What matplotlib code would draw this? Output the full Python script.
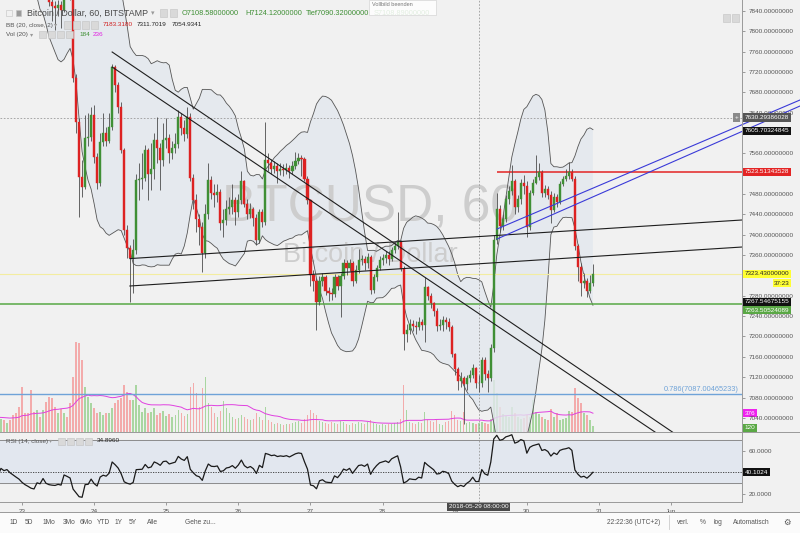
import numpy as np
import pandas as pd
import matplotlib
matplotlib.use('Agg')
import matplotlib.pyplot as plt
from matplotlib.patches import Rectangle
from matplotlib.lines import Line2D
from matplotlib.ticker import FuncFormatter

plt.rcParams['font.family'] = ['Liberation Sans', 'DejaVu Sans']

# BTCUSD 60 min, BITSTAMP.  hour 0 = 2018-05-23 00:00, first 30 bars are warm-up (off screen)
close_may22 = [8420, 8380, 8440, 8390, 8350, 8410, 8360, 8300, 8370, 8330, 8280, 8340, 8290, 8230, 8300,
               8260, 8200, 8270, 8230, 8170, 8240, 8200, 8140, 8210, 8180, 8190, 8150, 8120, 8090, 8060]
close_may23 = [8010, 7970, 7940, 7905, 7890, 7930, 7915, 7950, 7880, 7858, 7850, 7846,
               7852, 7842, 7900, 7885, 7868, 7708, 7622, 7513, 7494, 7590, 7592, 7635]
close_may24 = [7553, 7502, 7582, 7600, 7585, 7612, 7730, 7695, 7651, 7566, 7409, 7374,
               7354, 7370, 7507, 7510, 7512, 7566, 7520, 7530, 7586, 7570, 7546, 7586]
close_may25 = [7590, 7561, 7570, 7578, 7632, 7610, 7598, 7632, 7511, 7468, 7430, 7415,
               7364, 7441, 7507, 7481, 7478, 7483, 7423, 7428, 7450, 7455, 7468, 7445]
close_may26 = [7468, 7505, 7460, 7441, 7450, 7432, 7390, 7444, 7425, 7547, 7540, 7530,
               7535, 7525, 7530, 7527, 7532, 7525, 7535, 7545, 7550, 7548, 7510, 7468]
close_may27 = [7320, 7310, 7267, 7310, 7316, 7290, 7285, 7283, 7316, 7300, 7318, 7344,
               7335, 7345, 7310, 7330, 7350, 7353, 7345, 7356, 7291, 7316, 7335, 7350]
close_may28 = [7355, 7360, 7352, 7370, 7378, 7385, 7333, 7205, 7212, 7225, 7220, 7218,
               7228, 7222, 7297, 7280, 7265, 7250, 7220, 7222, 7232, 7228, 7218, 7165]
close_may29 = [7136, 7113, 7118, 7107, 7118, 7125, 7139, 7108.58, 7108.89, 7153, 7127, 7118,
               7178, 7390, 7450, 7418, 7430, 7470, 7485, 7505, 7455, 7470, 7502, 7495]
close_may30 = [7415, 7481, 7502, 7513, 7523, 7481, 7490, 7478, 7448, 7475, 7465, 7500,
               7510, 7515, 7523, 7510, 7378, 7336, 7305, 7310, 7290, 7305, 7323.43]

high_may22 = [8432, 8430, 8452, 8448, 8398, 8420, 8418, 8365, 8378, 8380, 8335, 8350, 8345, 8298, 8310,
              8308, 8268, 8280, 8275, 8238, 8250, 8245, 8205, 8220, 8215, 8200, 8195, 8158, 8128, 8096]
high_may23 = [8066, 8018, 7978, 7948, 7912, 7938, 7936, 7958, 7956, 7885, 7866, 7860,
              7862, 7860, 7908, 7905, 7890, 7875, 7715, 7630, 7547, 7636, 7640, 7650]
high_may24 = [7655, 7560, 7600, 7640, 7612, 7640, 7735, 7733, 7700, 7660, 7570, 7420,
              7380, 7392, 7520, 7540, 7560, 7576, 7570, 7580, 7600, 7632, 7580, 7620]
high_may25 = [7630, 7598, 7585, 7600, 7645, 7640, 7625, 7650, 7640, 7520, 7480, 7440,
              7425, 7460, 7541, 7515, 7500, 7500, 7490, 7450, 7468, 7475, 7500, 7475]
high_may26 = [7480, 7525, 7508, 7470, 7462, 7455, 7440, 7450, 7450, 7622, 7560, 7548,
              7545, 7540, 7540, 7538, 7540, 7536, 7545, 7562, 7560, 7556, 7552, 7515]
high_may27 = [7470, 7330, 7315, 7318, 7325, 7320, 7298, 7295, 7322, 7320, 7325, 7352,
              7350, 7352, 7348, 7340, 7372, 7360, 7358, 7365, 7360, 7322, 7340, 7358]
high_may28 = [7362, 7368, 7368, 7376, 7385, 7445, 7390, 7338, 7225, 7235, 7232, 7230,
              7238, 7235, 7317, 7300, 7285, 7268, 7255, 7235, 7240, 7238, 7236, 7222]
high_may29 = [7168, 7140, 7130, 7122, 7125, 7135, 7146, 7140, 7124.12, 7160, 7160, 7135,
              7185, 7400, 7481, 7458, 7440, 7478, 7495, 7537, 7510, 7478, 7510, 7517]
high_may30 = [7505, 7488, 7510, 7556, 7541, 7528, 7498, 7495, 7485, 7482, 7480, 7505,
              7515, 7530, 7543, 7530, 7515, 7382, 7345, 7325, 7315, 7320, 7342]

low_may22 = [8408, 8372, 8375, 8384, 8340, 8345, 8352, 8292, 8295, 8322, 8272, 8275, 8282, 8222, 8225,
             8252, 8192, 8195, 8222, 8162, 8165, 8195, 8132, 8135, 8172, 8175, 8142, 8112, 8082, 8052]
low_may23 = [8002, 7962, 7932, 7898, 7878, 7884, 7908, 7910, 7868, 7850, 7820, 7803,
             7830, 7806, 7838, 7875, 7862, 7700, 7600, 7434, 7474, 7490, 7575, 7585]
low_may24 = [7540, 7490, 7495, 7575, 7575, 7580, 7605, 7680, 7640, 7560, 7400, 7355,
             7268, 7285, 7362, 7468, 7490, 7505, 7468, 7488, 7510, 7540, 7488, 7535]
low_may25 = [7570, 7540, 7548, 7560, 7570, 7595, 7585, 7590, 7505, 7450, 7405, 7380,
             7326, 7355, 7430, 7470, 7455, 7465, 7410, 7395, 7420, 7440, 7440, 7420]
low_may26 = [7435, 7460, 7455, 7430, 7432, 7418, 7380, 7383, 7415, 7420, 7525, 7520,
             7522, 7502, 7518, 7515, 7520, 7512, 7520, 7530, 7538, 7515, 7505, 7460]
low_may27 = [7300, 7290, 7212, 7262, 7300, 7282, 7270, 7272, 7278, 7292, 7238, 7312,
             7320, 7328, 7300, 7305, 7325, 7340, 7330, 7335, 7283, 7285, 7310, 7330]
low_may28 = [7340, 7345, 7340, 7348, 7365, 7372, 7328, 7173, 7190, 7205, 7210, 7205,
             7212, 7212, 7189, 7272, 7255, 7240, 7210, 7212, 7210, 7215, 7210, 7160]
low_may29 = [7125, 7095, 7100, 7029, 7095, 7110, 7118, 7098, 7090.32, 7100, 7115, 7090,
             7112, 7170, 7382, 7405, 7410, 7425, 7460, 7478, 7440, 7445, 7460, 7480]
low_may30 = [7395, 7410, 7478, 7500, 7508, 7475, 7475, 7470, 7423, 7445, 7455, 7460,
             7495, 7505, 7510, 7505, 7370, 7310, 7280, 7295, 7278, 7285, 7300]

vol_may22 = [300, 280, 320, 260, 340, 300, 280, 260, 300, 320, 280, 260, 300, 340, 280,
             320, 260, 300, 280, 260, 300, 280, 320, 260, 240, 175, 240, 340, 375, 505]
vol_may23 = [905, 375, 375, 840, 400, 440, 305, 450, 600, 700, 675, 505,
             375, 470, 375, 305, 575, 1105, 1805, 1775, 1440, 905, 705, 575]
vol_may24 = [475, 375, 400, 340, 375, 375, 475, 575, 640, 675, 940, 805,
             640, 640, 940, 540, 405, 475, 375, 400, 480, 350, 380, 420]
vol_may25 = [330, 360, 300, 340, 440, 380, 320, 360, 900, 980, 780, 500,
             880, 1100, 580, 500, 380, 300, 420, 620, 480, 380, 300, 260]
vol_may26 = [280, 340, 300, 260, 240, 260, 380, 300, 240, 500, 240, 200,
             160, 180, 160, 150, 170, 160, 180, 200, 220, 180, 260, 340]
vol_may27 = [440, 380, 340, 220, 200, 180, 160, 200, 180, 160, 220, 200,
             160, 140, 180, 160, 200, 180, 160, 200, 240, 180, 160, 140]
vol_may28 = [160, 150, 170, 160, 180, 200, 260, 940, 440, 200, 180, 160,
             200, 180, 400, 240, 220, 200, 240, 160, 140, 200, 220, 420]
vol_may29 = [340, 240, 220, 400, 180, 200, 180, 160, 184, 200, 180, 160,
             260, 1040, 780, 500, 360, 320, 300, 500, 380, 300, 260, 280]
vol_may30 = [340, 300, 640, 400, 360, 300, 260, 240, 460, 300, 380, 240,
             260, 280, 420, 400, 880, 680, 580, 380, 340, 240, 120]

# drawings: (hour, price) anchors
channel_down_upper = ([30, 220], [7759, 6998])
channel_down_lower = ([30, 215], [7729.5, 6995])
support_upper = ([35.9, 239.6], [7353.1, 7428.9])
support_lower = ([35.9, 239.6], [7299.2, 7375.8])
channel_blue_upper = ([158.07, 258.9], [7411.2, 7664.7])
channel_blue_lower = ([158.07, 258.9], [7391.6, 7652.9])
resistance = 7523.51343528
resistance_start = 158
support_green = 7263.50524089
fib_786 = 7087.00465233
last_price = 7323.43
crosshair_hour = 152
crosshair_price = 7630.29386028

day_ticks = [0, 24, 48, 72, 96, 120, 144, 168, 192, 216]
day_labels = ['23', '24', '25', '26', '27', '28', '29', '30', '31', 'Jun']
# tick levels that are not hidden behind the price tags
price_ticks = [7040, 7080, 7120, 7160, 7200, 7240, 7280, 7360, 7400, 7440, 7480,
               7560, 7640, 7680, 7720, 7760, 7800, 7840]
rsi_ticks = [20, 60]

hours = np.arange(-30, 191)
close = pd.Series(close_may22 + close_may23 + close_may24 + close_may25 + close_may26 +
                  close_may27 + close_may28 + close_may29 + close_may30, index=hours, dtype=float)
high = pd.Series(high_may22 + high_may23 + high_may24 + high_may25 + high_may26 +
                 high_may27 + high_may28 + high_may29 + high_may30, index=hours, dtype=float)
low = pd.Series(low_may22 + low_may23 + low_may24 + low_may25 + low_may26 +
                low_may27 + low_may28 + low_may29 + low_may30, index=hours, dtype=float)
volume = pd.Series(vol_may22 + vol_may23 + vol_may24 + vol_may25 + vol_may26 +
                   vol_may27 + vol_may28 + vol_may29 + vol_may30, index=hours, dtype=float)
opens = close.shift(1).fillna(close.iloc[0])

# indicators
bb_mid = close.rolling(20).mean()
bb_sd = close.rolling(20).std(ddof=0)
bb_up = bb_mid + 2 * bb_sd
bb_dn = bb_mid - 2 * bb_sd
delta = close.diff().fillna(0)
gain = delta.clip(lower=0).ewm(alpha=1/14, adjust=False).mean()
loss = (-delta.clip(upper=0)).ewm(alpha=1/14, adjust=False).mean()
rsi = 100 - 100 / (1 + gain / loss)
vol_ma = volume.rolling(20).mean()

BG = '#f1f1f1'
UP = '#3f8f35'
DOWN = '#dd2222'
W, H = 800, 533


def fx(x):
    return x / W


def fy(y):
    return 1 - y / H


def rect(x0, y0, x1, y1):
    return [x0 / W, 1 - y1 / H, (x1 - x0) / W, (y1 - y0) / H]


fig = plt.figure(figsize=(8, 5.33), dpi=100, facecolor=BG)
vax = fig.add_axes(rect(0, 0, 742, 432))
ax = fig.add_axes(rect(0, 0, 742, 432), sharex=vax)
rax = fig.add_axes(rect(0, 432, 742, 502), sharex=vax)
vax.set_facecolor(BG)
ax.set_facecolor('none')
rax.set_facecolor(BG)
for a in (vax, ax, rax):
    for s in a.spines.values():
        s.set_visible(False)
ax.set_xlim(-22 / 3.005, 720 / 3.005)
ax.set_ylim(7012.3, 7861.2)
vax.set_ylim(0, 8640)
rax.set_ylim(12.6, 77.25)
vax.set_yticks([])
vax.tick_params(bottom=False, labelbottom=False)
ax.tick_params(bottom=False, labelbottom=False)

# watermark (above the band fill, below the candles)
ax.text(fx(371), fy(222), 'BTCUSD, 60', transform=fig.transFigure, ha='center', va='baseline',
        fontsize=37, color='#cdcdcd', zorder=1.5)
ax.text(fx(370), fy(262), 'Bitcoin / Dollar', transform=fig.transFigure, ha='center', va='baseline',
        fontsize=19.5, color='#cdcdcd', zorder=1.5)

# volume
vcol = np.where(close >= opens, '#a9d6a1', '#f3abab')
vax.bar(hours, volume, width=0.5, color=vcol, zorder=2)
vax.plot(hours, vol_ma, color='#e040e0', lw=0.7, zorder=3)

# bollinger bands
ax.fill_between(hours, bb_dn, bb_up, color='#e3e8ee', alpha=0.8, lw=0, zorder=1)
ax.plot(hours, bb_up, color='#555555', lw=0.6, zorder=2)
ax.plot(hours, bb_dn, color='#555555', lw=0.6, zorder=2)

# horizontal levels
ax.axhline(support_green, color='#58a845', lw=1.1, zorder=3)
ax.axhline(fib_786, color='#6fa3d8', lw=1.0, zorder=3)
ax.axhline(last_price, color='#f3eda0', lw=0.8, zorder=2)
ax.hlines(resistance, resistance_start, 240, color='#e32424', lw=1.1, zorder=3)
ax.axhline(crosshair_price, color='#9a9a9a', lw=0.6, ls=(0, (2, 2)), zorder=3)
ax.axvline(crosshair_hour, color='#9a9a9a', lw=0.6, ls=(0, (2, 2)), zorder=3)
rax.axvline(crosshair_hour, color='#9a9a9a', lw=0.6, ls=(0, (2, 2)), zorder=3)
ax.text(238.5, fib_786 + 2, '0.786(7087.00465233)', ha='right', va='bottom', fontsize=5.3,
        color='#6fa3d8', zorder=4)

# candles
ccol = np.where(close >= opens, UP, DOWN)
ax.vlines(hours, low, high, color='#4d4d4d', lw=0.6, zorder=4)
ax.bar(hours, (close - opens).abs(), bottom=np.minimum(close, opens), width=0.7,
       color=ccol, edgecolor=ccol, lw=0.3, zorder=5)

# trend lines
for xs, ys in (channel_down_upper, channel_down_lower, support_upper, support_lower):
    ax.plot(xs, ys, color='#1e1e1e', lw=0.8, zorder=6)
for xs, ys in (channel_blue_upper, channel_blue_lower):
    ax.plot(xs, ys, color='#3a3ad8', lw=0.8, zorder=6, clip_on=False)

# price axis
ax.yaxis.tick_right()
ax.set_yticks(price_ticks)
ax.yaxis.set_major_formatter(FuncFormatter(lambda v, p: '%.8f' % v))
ax.tick_params(axis='y', length=2.5, width=0.6, colors='#8c8c8c', labelcolor='#555555',
               labelsize=4.6, pad=2)


def tag(axis, y, text, fc, tc='white', x=1.004):
    axis.text(x, y, text, transform=axis.get_yaxis_transform(), ha='left', va='center',
              fontsize=4.6, color=tc, zorder=10, clip_on=False,
              bbox=dict(boxstyle='square,pad=0.25', fc=fc, ec='none'))


tag(ax, crosshair_price, '7630.29386028', '#555555')
ax.text(0.9925, crosshair_price, '+', transform=ax.get_yaxis_transform(), ha='center', va='center',
        fontsize=4.6, color='white', zorder=10, clip_on=False,
        bbox=dict(boxstyle='square,pad=0.25', fc='#8a8a8a', ec='none'))
tag(ax, 7603.8, '7605.70324845', '#111111')
tag(ax, resistance, '7523.51343528', '#e32424')
tag(ax, last_price, '7323.43000000', '#ffff33', '#222222')
ax.text(1.0645, 7305, '37:23', transform=ax.get_yaxis_transform(), ha='right', va='center',
        fontsize=4.6, color='#222222', zorder=10, clip_on=False,
        bbox=dict(boxstyle='square,pad=0.25', fc='#ffff33', ec='none'))
tag(ax, 7267.8, '7267.54675155', '#111111')
tag(ax, 7252, '7263.50524089', '#5aa845')
tag(vax, 376, '376', '#ee22ee')
tag(vax, 85, '120', '#5aa845')

# RSI pane
rax.axhspan(30, 70, color='#e2e7ef', zorder=0)
rax.axhline(70, color='#8c8c8c', lw=0.7)
rax.axhline(30, color='#8c8c8c', lw=0.7)
rax.axhline(40.1024, color='#333333', lw=0.6, ls=(0, (1.5, 1.5)))
rax.plot(hours, rsi, color='#1a1a1a', lw=0.9, zorder=3)
rax.yaxis.tick_right()
rax.set_yticks(rsi_ticks)
rax.yaxis.set_major_formatter(FuncFormatter(lambda v, p: '%.4f' % v))
rax.tick_params(axis='y', length=2.5, width=0.6, colors='#8c8c8c', labelcolor='#555555',
                labelsize=4.6, pad=2)
tag(rax, 40.1024, '40.1024', '#111111')
rax.set_xticks(day_ticks)
rax.set_xticklabels(day_labels)
rax.tick_params(axis='x', length=2, width=0.6, colors='#8c8c8c', labelcolor='#555555',
                labelsize=4.6, pad=3)
rax.text(crosshair_hour, -0.035, '2018-05-29 08:00:00', transform=rax.get_xaxis_transform(),
         ha='center', va='top', fontsize=4.6, color='white', zorder=10, clip_on=False,
         bbox=dict(boxstyle='square,pad=0.3', fc='#4a4a4a', ec='none'))

# frame lines
for xs, ys in (([742, 742], [0, 502]), ([0, 800], [432, 432]), ([0, 742], [502, 502]),
               ([0, 800], [512, 512])):
    fig.add_artist(Line2D([fx(v) for v in xs], [fy(v) for v in ys], color='#9a9a9a', lw=0.7))

# bottom toolbar
fig.add_artist(Rectangle((0, 0), 1, fy(512.5), transform=fig.transFigure, fc='#fbfbfb', ec='none',
                         zorder=0.5))


def ftext(x, y, s, size=4.8, color='#555555', **kw):
    fig.text(fx(x), fy(y), s, fontsize=size, color=color, va='center', zorder=12, **kw)


def icon(x, y, w=7, fc='#d9d9d9'):
    fig.add_artist(Rectangle((fx(x), fy(y + w / 2)), w / W, w / H, transform=fig.transFigure,
                             fc=fc, ec='#c2c2c2', lw=0.4, zorder=12))


for x, s in ((10, '1D'), (25, '5D'), (43, '1Mo'), (63, '3Mo'), (80, '6Mo'), (97, 'YTD'),
             (115, '1Y'), (129, '5Y'), (147, 'Alle'), (185, 'Gehe zu...')):
    ftext(x, 522, s)
for x, s in ((607, '22:22:36 (UTC+2)'), (677, 'verl.'), (700, '%'), (713, 'log'),
             (733, 'Automatisch')):
    ftext(x, 522, s)
ftext(783, 522, '\u2699', size=6, family='DejaVu Sans')
fig.add_artist(Line2D([fx(669)] * 2, [fy(515), fy(529)], color='#cccccc', lw=0.6))

# legend / header
icon(6, 13, 6, fc='none')
icon(16, 13, 5, fc='#9a9a9a')
ftext(27, 13.5, 'Bitcoin / Dollar, 60, BITSTAMP', size=6.4, color='#4a4a4a')
ftext(151, 13.5, '\u25be', size=5, color='#999999', family='DejaVu Sans')
icon(160, 13)
icon(170, 13)
ftext(182, 13.5, 'O7108.58000000', size=5.3, color='#3f8f35')
ftext(245, 13.5, 'H7124.12000000', size=5.3, color='#3f8f35')
ftext(306, 13.5, 'Tief7090.32000000', size=5.3, color='#3f8f35')
ftext(374, 13.5, 'S7108.89000000', size=5.3, color='#3f8f35')
fig.add_artist(Rectangle((fx(369), fy(15)), 67 / W, 15 / H, transform=fig.transFigure,
                         fc='white', ec='#d0d0d0', lw=0.5, alpha=0.85, zorder=13))
fig.text(fx(372), fy(4.5), 'Vollbild beenden', fontsize=4, color='#777777', va='center', zorder=14)

ftext(6, 25, 'BB (20, close, 2)', size=4.6)
ftext(54, 25, '\u25be', size=4.5, color='#999999', family='DejaVu Sans')
for x in (64, 73, 82, 91):
    icon(x, 25)
ftext(103, 25, '7183.3180', size=4.6, color='#d02020')
ftext(137, 25, '7311.7019', size=4.6, color='#222222')
ftext(172, 25, '7054.9341', size=4.6, color='#222222')

ftext(6, 34.5, 'Vol (20)', size=4.6)
ftext(30, 34.5, '\u25be', size=4.5, color='#999999', family='DejaVu Sans')
for x in (39, 48, 57, 66):
    icon(x, 34.5)
ftext(79, 34.5, '184', size=4.6, color='#3f8f35')
ftext(93, 34.5, '236', size=4.6, color='#e020e0')

ftext(6, 441, 'RSI (14, close)', size=4.6)
ftext(49, 441, '\u25be', size=4.5, color='#999999', family='DejaVu Sans')
for x in (58, 67, 76, 85):
    icon(x, 441)
ftext(97, 441, '34.8960', size=4.6, color='#222222')

icon(723, 18)
icon(732, 18)

fig.savefig('out.png', dpi=100, facecolor=fig.get_facecolor())
